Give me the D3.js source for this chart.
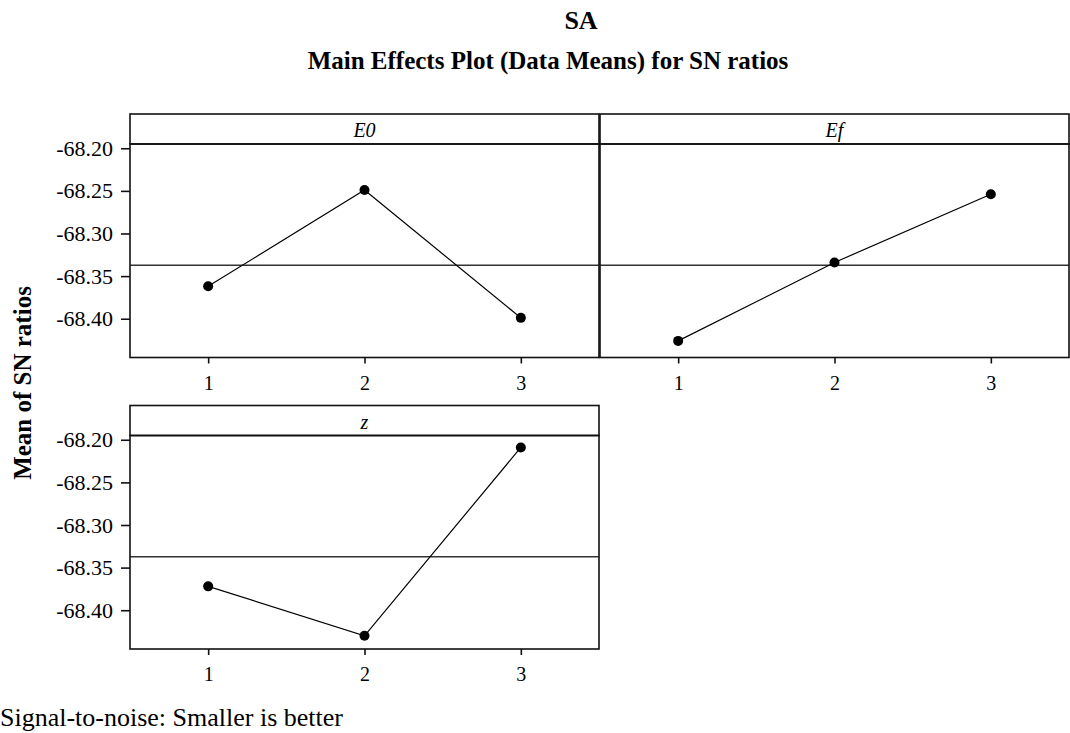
<!DOCTYPE html>
<html>
<head>
<meta charset="utf-8">
<script src="https://cdn.jsdelivr.net/npm/d3@7"></script>
<style>
  html, body { margin: 0; padding: 0; background: #fff; }
  svg { display: block; }
  text { font-family: "Liberation Serif", "Times New Roman", serif; fill: #000; }
</style>
</head>
<body>
<svg id="chart" width="1070" height="733"></svg>
<script>
// Factor levels shared by every panel
const levels = [1, 2, 3];

// Mean SN ratio at each level, one array per factor
const snE0 = [-68.362, -68.249, -68.399];
const snEf = [-68.426, -68.334, -68.254];
const snZ  = [-68.372, -68.430, -68.209];

const factorNames = ["E0", "Ef", "z"];
const factorSeries = [snE0, snEf, snZ];

// Y-axis tick labels
const yTicks = [-68.20, -68.25, -68.30, -68.35, -68.40];

const titleText = "SA";
const subtitleText = "Main Effects Plot (Data Means) for SN ratios";
const yAxisTitle = "Mean of SN ratios";
const footerText = "Signal-to-noise: Smaller is better";

// Grand mean across all runs (same for every factor)
const grandMean = d3.mean(factorSeries.flat());

const svg = d3.select("#chart");

// Panel grid geometry
const colLeft = [130, 600];
const panelW = 469;
const rowTop = [114, 405.5];
const headerH = 30;
const plotH = 213.5;
const yDomain = [-68.4455, -68.195];

// Panel placement: two on top row, one below on the left
const panelPos = [
  { col: 0, row: 0, yAxis: true },
  { col: 1, row: 0, yAxis: false },
  { col: 0, row: 1, yAxis: true }
];

factorNames.forEach((name, i) => {
  const p = panelPos[i];
  const x0 = colLeft[p.col];
  const top = rowTop[p.row];
  const plotTop = top + headerH;
  const plotBottom = plotTop + plotH;

  const x = d3.scaleLinear().domain([0.5, 3.5]).range([x0, x0 + panelW]);
  const y = d3.scaleLinear().domain(yDomain).range([plotBottom, plotTop]);

  const g = svg.append("g");

  // Reference line at the grand mean
  g.append("line")
    .attr("x1", x0).attr("x2", x0 + panelW)
    .attr("y1", y(grandMean)).attr("y2", y(grandMean))
    .attr("stroke", "#333").attr("stroke-width", 1.6);

  // Header strip with the factor name
  g.append("rect")
    .attr("x", x0).attr("y", top)
    .attr("width", panelW).attr("height", headerH)
    .attr("fill", "none").attr("stroke", "#111").attr("stroke-width", 1.6);
  g.append("text")
    .attr("x", x0 + panelW / 2).attr("y", top + headerH / 2 + 1)
    .attr("text-anchor", "middle").attr("dominant-baseline", "central")
    .attr("font-size", 20).attr("font-style", "italic")
    .text(name);

  // Plot frame
  g.append("rect")
    .attr("x", x0).attr("y", plotTop)
    .attr("width", panelW).attr("height", plotH)
    .attr("fill", "none").attr("stroke", "#111").attr("stroke-width", 1.6);

  // Bottom axis with level ticks
  const xAxis = g.append("g")
    .attr("transform", `translate(0,${plotBottom})`)
    .call(d3.axisBottom(x).tickValues(levels).tickSize(6).tickPadding(12).tickFormat(d3.format("d")));
  xAxis.select(".domain").remove();
  xAxis.selectAll("line").attr("stroke", "#111").attr("stroke-width", 1.6);
  xAxis.selectAll("text").attr("font-size", 20).attr("fill", "#000")
    .style("font-family", "'Liberation Serif', serif");

  if (p.yAxis) {
    const yAxis = g.append("g")
      .attr("transform", `translate(${x0},0)`)
      .call(d3.axisLeft(y).tickValues(yTicks).tickSize(9).tickPadding(8).tickFormat(d => d.toFixed(2)));
    yAxis.select(".domain").remove();
    yAxis.selectAll("line").attr("stroke", "#111").attr("stroke-width", 1.6);
    yAxis.selectAll("text").attr("font-size", 22).attr("fill", "#000")
      .style("font-family", "'Liberation Serif', serif");
  }

  // Main effect line and level points
  const values = factorSeries[i];
  const pts = levels.map((lv, k) => ({ lv, v: values[k] }));
  g.append("path")
    .datum(pts)
    .attr("fill", "none").attr("stroke", "#000").attr("stroke-width", 1.2)
    .attr("d", d3.line().x(d => x(d.lv)).y(d => y(d.v)));
  g.selectAll("circle.pt")
    .data(pts).enter().append("circle")
    .attr("class", "pt")
    .attr("cx", d => x(d.lv)).attr("cy", d => y(d.v))
    .attr("r", 5).attr("fill", "#000");
});

// Titles
svg.append("text")
  .attr("x", 581).attr("y", 29)
  .attr("text-anchor", "middle")
  .attr("font-size", 26).attr("font-weight", "bold")
  .text(titleText);
svg.append("text")
  .attr("x", 548).attr("y", 69)
  .attr("text-anchor", "middle")
  .attr("font-size", 25).attr("font-weight", "bold")
  .text(subtitleText);

// Shared y-axis title
svg.append("text")
  .attr("transform", "translate(31,383) rotate(-90)")
  .attr("text-anchor", "middle")
  .attr("font-size", 25).attr("font-weight", "bold")
  .text(yAxisTitle);

// Footer note
svg.append("text")
  .attr("x", 0).attr("y", 726)
  .attr("font-size", 26)
  .text(footerText);
</script>
</body>
</html>
